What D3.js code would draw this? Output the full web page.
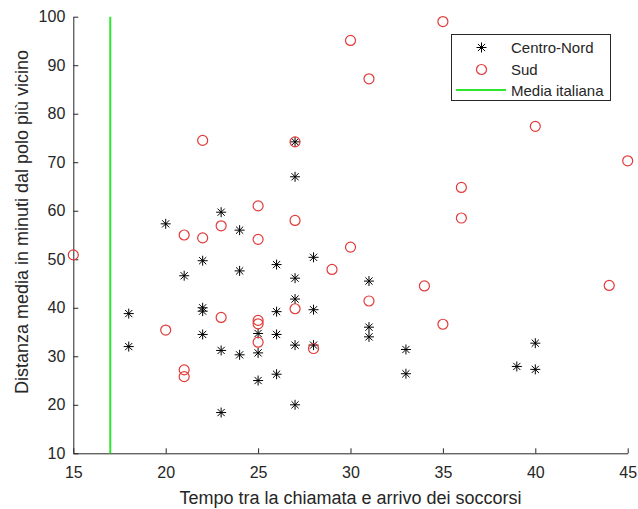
<!DOCTYPE html>
<html>
<head>
  <meta charset="utf-8">
  <title>Tempo di soccorso vs distanza</title>
  <style>
  body { margin: 0; background: #fff; }
  text { font-family: "Liberation Sans", Arial, sans-serif; fill: #262626; }
  .axis path, .axis line { stroke: #262626; }
  </style>
</head>
<body>
  <div id="chart"></div>
  <script src="https://d3js.org/d3.v7.min.js"></script>
  <script>
    // Centro-Nord: tempo (min) e distanza (min)
    var nordX = [18, 18, 20, 21, 22, 22, 22, 22, 23, 23, 23, 24, 24, 24, 25, 25, 25,
                 26, 26, 26, 26, 27, 27, 27, 27, 27, 27, 28, 28, 28, 31, 31, 31, 33, 33, 39, 40, 40];
    var nordY = [38.8, 32.0, 57.3, 46.6, 49.7, 40.0, 39.3, 34.5, 59.7, 31.2, 18.4, 56.0, 47.6, 30.3, 34.7, 30.7, 25.0,
                 48.9, 39.2, 34.5, 26.3, 74.2, 67.0, 46.1, 41.8, 32.3, 20.0, 50.4, 39.6, 32.3, 45.5, 36.0, 34.0, 31.4, 26.4, 27.9, 32.7, 27.3];

    // Sud
    var sudX = [15, 20, 21, 21, 21, 22, 22, 23, 23, 25, 25, 25, 25, 25, 27, 27, 27,
                28, 29, 30, 30, 31, 31, 34, 35, 35, 36, 36, 40, 44, 45];
    var sudY = [50.9, 35.4, 55.0, 27.2, 25.8, 74.5, 54.4, 56.9, 38.0, 61.0, 54.1, 37.4, 36.7, 32.9, 74.2, 58.0, 39.8,
                31.6, 47.9, 95.1, 52.5, 87.2, 41.4, 44.5, 99.0, 36.6, 64.8, 58.5, 77.4, 44.6, 70.3];

    var mediaItaliana = 17;
    var xTicks = [15, 20, 25, 30, 35, 40, 45];
    var yTicks = [10, 20, 30, 40, 50, 60, 70, 80, 90, 100];
    var legendLabels = ["Centro-Nord", "Sud", "Media italiana"];

    var width = 638, height = 509;

    var svg = d3.select("#chart").append("svg")
        .attr("width", width)
        .attr("height", height);

    var x = d3.scaleLinear().domain([15, 45]).range([73.3, 627.7]);
    var y = d3.scaleLinear().domain([10, 100]).range([453.3, 16.7]);

    var green = "#2ee62e", red = "#e23a3a";

    // star marker (MATLAB '*'): plus + cross
    function star(g, cx, cy, r) {
      var d = r * 0.72;
      g.append("path")
        .attr("d", "M" + (cx - r) + "," + cy + "H" + (cx + r) +
                   "M" + cx + "," + (cy - r) + "V" + (cy + r) +
                   "M" + (cx - d) + "," + (cy - d) + "L" + (cx + d) + "," + (cy + d) +
                   "M" + (cx - d) + "," + (cy + d) + "L" + (cx + d) + "," + (cy - d))
        .attr("stroke", "#000")
        .attr("stroke-width", 1)
        .attr("fill", "none");
    }

    // axes
    svg.append("g")
        .attr("class", "axis")
        .attr("transform", "translate(0," + y(10) + ")")
        .call(d3.axisBottom(x).tickValues(xTicks).tickSizeInner(-5).tickSizeOuter(0).tickPadding(13))
        .call(function(g) { g.selectAll("text").attr("font-size", 16).attr("fill", "#262626"); });

    svg.append("g")
        .attr("class", "axis")
        .attr("transform", "translate(" + x(15) + ",0)")
        .call(d3.axisLeft(y).tickValues(yTicks).tickSizeInner(-5).tickSizeOuter(0).tickPadding(8))
        .call(function(g) { g.selectAll("text").attr("font-size", 16).attr("fill", "#262626"); });

    // media italiana
    svg.append("line")
        .attr("x1", x(mediaItaliana)).attr("x2", x(mediaItaliana))
        .attr("y1", y(100)).attr("y2", y(10))
        .attr("stroke", green)
        .attr("stroke-width", 2);

    // Centro-Nord
    var gn = svg.append("g");
    nordX.forEach(function(v, i) { star(gn, x(v), y(nordY[i]), 5); });

    // Sud
    svg.append("g").selectAll("circle")
      .data(sudX.map(function(v, i) { return [v, sudY[i]]; }))
      .enter().append("circle")
        .attr("cx", function(d) { return x(d[0]); })
        .attr("cy", function(d) { return y(d[1]); })
        .attr("r", 5)
        .attr("fill", "none")
        .attr("stroke", red)
        .attr("stroke-width", 1.2);

    // axis titles
    svg.append("text")
        .attr("x", (x(15) + x(45)) / 2)
        .attr("y", 504)
        .attr("text-anchor", "middle")
        .attr("font-size", 18)
        .text("Tempo tra la chiamata e arrivo dei soccorsi");

    svg.append("text")
        .attr("transform", "translate(28,222) rotate(-90)")
        .attr("text-anchor", "middle")
        .attr("font-size", 18)
        .text("Distanza media in minuti dal polo più vicino");

    // legend
    var lg = svg.append("g");
    lg.append("rect")
        .attr("x", 451.5).attr("y", 34.5)
        .attr("width", 159).attr("height", 66)
        .attr("fill", "#fff")
        .attr("stroke", "#262626")
        .attr("stroke-width", 1);
    var rowY = [47.5, 69.5, 90];
    star(lg, 481.5, rowY[0], 5);
    lg.append("circle")
        .attr("cx", 481.5).attr("cy", rowY[1]).attr("r", 5)
        .attr("fill", "none").attr("stroke", red).attr("stroke-width", 1.2);
    lg.append("line")
        .attr("x1", 456).attr("x2", 506)
        .attr("y1", rowY[2]).attr("y2", rowY[2])
        .attr("stroke", green).attr("stroke-width", 2);
    lg.selectAll("text.lab")
      .data(legendLabels)
      .enter().append("text")
        .attr("class", "lab")
        .attr("x", 511)
        .attr("y", function(d, i) { return rowY[i] + 5.5; })
        .attr("font-size", 15)
        .text(function(d) { return d; });
  </script>
</body>
</html>
